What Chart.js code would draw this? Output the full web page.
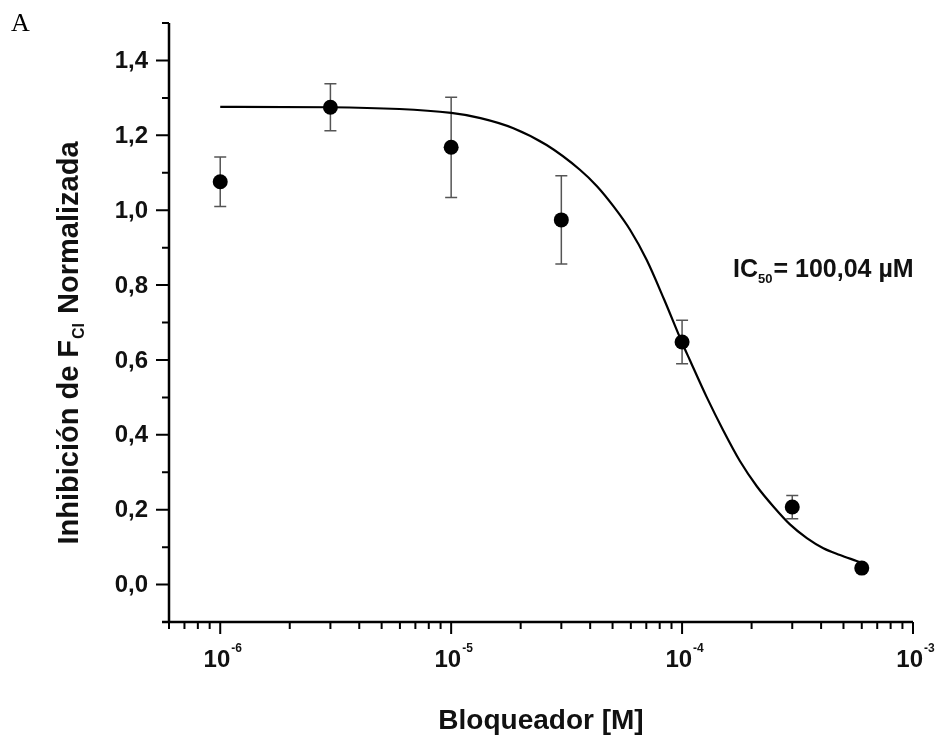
<!DOCTYPE html>
<html>
<head>
<meta charset="utf-8">
<script src="https://cdn.jsdelivr.net/npm/chart.js@4/dist/chart.umd.min.js"></script>
<style>
  html, body { margin: 0; padding: 0; background: #ffffff; }
  #wrap { width: 936px; height: 738px; }
</style>
</head>
<body>
<div id="wrap"><canvas id="c" width="936" height="738"></canvas></div>
<script>
// ---- data ----
const concentrations = [1e-6, 3e-6, 1e-5, 3e-5, 1e-4, 3e-4, 6e-4];          // Bloqueador [M]
const inhibition     = [1.076, 1.275, 1.168, 0.974, 0.648, 0.207, 0.044];     // normalized
const errors         = [0.066, 0.063, 0.134, 0.118, 0.058, 0.031, 0.0];

// fitted curve, points
const fitX = [1.0e-6, 3.0e-6, 1.0e-5, 1.34e-5, 1.86e-5, 2.59e-5, 3.61e-5, 4.28e-5, 5.05e-5,
              5.96e-5, 7.03e-5, 8.38e-5, 1.0e-4, 1.08e-4, 1.28e-4, 1.51e-4, 1.78e-4,
              2.11e-4, 2.49e-4, 2.94e-4, 3.47e-4, 4.09e-4, 4.83e-4, 5.70e-4, 6.0e-4];
const fitY = [1.276, 1.275, 1.260, 1.246, 1.219, 1.174, 1.108, 1.064, 1.010,
              0.947, 0.867, 0.760, 0.646, 0.600, 0.500, 0.411, 0.330,
              0.262, 0.208, 0.160, 0.124, 0.097, 0.079, 0.063, 0.058];

const yMajorTicks = [0.0, 0.2, 0.4, 0.6, 0.8, 1.0, 1.2, 1.4];
const yTickLabels = ['0,0', '0,2', '0,4', '0,6', '0,8', '1,0', '1,2', '1,4'];
const yMinorTicks = [-0.1, 0.1, 0.3, 0.5, 0.7, 0.9, 1.1, 1.3, 1.5];
const xDecadeExponents = [-6, -5, -4, -3];
const xTickLabels = ['-6', '-5', '-4', '-3'];

const xTitle = 'Bloqueador [M]';
const yTitleParts = ['Inhibición de F', 'CI', ' Normalizada'];
const annotationParts = ['IC', '50', '= 100,04 µM'];
const panelLetter = 'A';

const FONT = '"Liberation Sans", Arial, Helvetica, sans-serif';

const customAxes = {
  id: 'customAxes',
  beforeDatasetsDraw(chart) {
    const ctx = chart.ctx, xs = chart.scales.x, ys = chart.scales.y;
    ctx.save();
    ctx.strokeStyle = '#555555';
    ctx.lineWidth = 1.5;
    for (let i = 0; i < concentrations.length; i++) {
      if (!errors[i]) continue;
      const x = xs.getPixelForValue(concentrations[i]);
      const yt = ys.getPixelForValue(inhibition[i] + errors[i]);
      const yb = ys.getPixelForValue(inhibition[i] - errors[i]);
      ctx.beginPath();
      ctx.moveTo(x, yt); ctx.lineTo(x, yb);
      ctx.moveTo(x - 6, yt); ctx.lineTo(x + 6, yt);
      ctx.moveTo(x - 6, yb); ctx.lineTo(x + 6, yb);
      ctx.stroke();
    }
    ctx.restore();
  },
  afterDraw(chart) {
    const ctx = chart.ctx, xs = chart.scales.x, ys = chart.scales.y;
    const a = chart.chartArea;
    ctx.save();
    ctx.strokeStyle = '#000';
    ctx.fillStyle = '#111';
    // axis lines
    ctx.lineWidth = 2.5;
    ctx.beginPath();
    ctx.moveTo(a.left, a.top); ctx.lineTo(a.left, a.bottom);
    ctx.moveTo(a.left - 7, a.bottom); ctx.lineTo(a.right, a.bottom);
    ctx.stroke();
    // y ticks
    ctx.lineWidth = 2;
    ctx.beginPath();
    yMajorTicks.forEach(v => { const y = ys.getPixelForValue(v); ctx.moveTo(a.left - 13, y); ctx.lineTo(a.left, y); });
    yMinorTicks.forEach(v => { const y = ys.getPixelForValue(v); ctx.moveTo(a.left - 7, y); ctx.lineTo(a.left, y); });
    // x ticks
    const xmin = xs.min, xmax = xs.max;
    for (let e = -7; e <= -3; e++) {
      for (let m = 1; m <= 9; m++) {
        const v = m * Math.pow(10, e);
        if (v < xmin * 0.999 || v > xmax * 1.001) continue;
        const x = xs.getPixelForValue(v);
        const len = (m === 1) ? 12 : 7;
        ctx.moveTo(x, a.bottom); ctx.lineTo(x, a.bottom + len);
      }
    }
    ctx.stroke();
    // y tick labels
    ctx.font = 'bold 24px ' + FONT;
    ctx.textAlign = 'right';
    ctx.textBaseline = 'middle';
    yMajorTicks.forEach((v, i) => ctx.fillText(yTickLabels[i], 148, ys.getPixelForValue(v) + 1));
    // x tick labels 10^n
    ctx.textBaseline = 'alphabetic';
    ctx.textAlign = 'left';
    xDecadeExponents.forEach((e, i) => {
      const x = xs.getPixelForValue(Math.pow(10, e));
      ctx.font = 'bold 24px ' + FONT;
      const w1 = ctx.measureText('10').width;
      ctx.font = 'bold 12px ' + FONT;
      const w2 = ctx.measureText(xTickLabels[i]).width;
      const x0 = x - (w1 + w2) / 2 + 2;
      ctx.font = 'bold 24px ' + FONT;
      ctx.fillText('10', x0, 667);
      ctx.font = 'bold 12px ' + FONT;
      ctx.fillText(xTickLabels[i], x0 + w1 + 1, 652);
    });
    // x title
    ctx.font = 'bold 28px ' + FONT;
    ctx.textAlign = 'center';
    ctx.textBaseline = 'alphabetic';
    ctx.fillText(xTitle, (a.left + a.right) / 2, 729);
    // y title (rotated)
    ctx.save();
    ctx.translate(68, 343);
    ctx.rotate(-Math.PI / 2);
    ctx.textAlign = 'left';
    ctx.textBaseline = 'alphabetic';
    ctx.font = 'bold 29px ' + FONT;
    const p1 = ctx.measureText(yTitleParts[0]).width;
    const p3 = ctx.measureText(yTitleParts[2]).width;
    ctx.font = 'bold 16px ' + FONT;
    const p2 = ctx.measureText(yTitleParts[1]).width;
    const tot = p1 + p2 + p3 + 2;
    let xx = -tot / 2;
    ctx.font = 'bold 29px ' + FONT;
    ctx.fillText(yTitleParts[0], xx, 10); xx += p1 + 1;
    ctx.font = 'bold 16px ' + FONT;
    ctx.fillText(yTitleParts[1], xx, 16); xx += p2 + 1;
    ctx.font = 'bold 29px ' + FONT;
    ctx.fillText(yTitleParts[2], xx, 10);
    ctx.restore();
    // IC50 annotation
    ctx.textAlign = 'left';
    ctx.font = 'bold 25px ' + FONT;
    let ax = 733;
    ctx.fillText(annotationParts[0], ax, 277);
    ax += ctx.measureText(annotationParts[0]).width;
    ctx.font = 'bold 13px ' + FONT;
    ctx.fillText(annotationParts[1], ax, 283);
    ax += ctx.measureText(annotationParts[1]).width + 1;
    ctx.font = 'bold 25px ' + FONT;
    ctx.fillText(annotationParts[2], ax, 277);
    // panel letter
    ctx.font = '26px "Liberation Serif", "Times New Roman", serif';
    ctx.fillStyle = '#000';
    ctx.fillText(panelLetter, 11, 31);
    ctx.restore();
  }
};

new Chart(document.getElementById('c'), {
  type: 'scatter',
  data: {
    datasets: [
      {
        label: 'Ajuste',
        data: fitX.map((x, i) => ({ x: x, y: fitY[i] })),
        showLine: true,
        borderColor: '#000',
        borderWidth: 2.2,
        pointRadius: 0,
        cubicInterpolationMode: 'monotone',
        fill: false,
        order: 2
      },
      {
        label: 'Datos',
        data: concentrations.map((x, i) => ({ x: x, y: inhibition[i] })),
        showLine: false,
        pointRadius: 7.5,
        pointBackgroundColor: '#000',
        pointBorderColor: '#000',
        pointBorderWidth: 0,
        order: 1
      }
    ]
  },
  options: {
    responsive: false,
    devicePixelRatio: 1,
    animation: false,
    layout: { padding: { left: 169, top: 23, right: 23, bottom: 116 } },
    plugins: { legend: { display: false }, tooltip: { enabled: false } },
    scales: {
      x: { type: 'logarithmic', min: 6e-7, max: 1e-3, display: false },
      y: { type: 'linear', min: -0.1, max: 1.5, display: false }
    }
  },
  plugins: [customAxes]
});
</script>
</body>
</html>
